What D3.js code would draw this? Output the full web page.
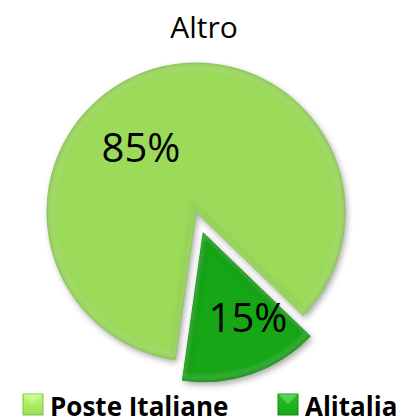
<!DOCTYPE html>
<html><head><meta charset="utf-8">
<script src="https://cdn.jsdelivr.net/npm/d3@7"></script>
<style>body{margin:0;background:#fff}svg{display:block}</style>
</head><body>
<script>
const categories = ["Poste Italiane", "Alitalia"];
const values = [85, 15];
const labels = ["85%", "15%"];
const title = "Altro";
const colors = ["#9cdb5a", "#19a619"];
const edgeColors = ["#82bd4c", "#138a13"];

const W = 403, H = 420;
const svg = d3.select("body").append("svg").attr("width", W).attr("height", H);
const defs = svg.append("defs");

const sh = defs.append("filter").attr("id","shadow").attr("x","-20%").attr("y","-20%").attr("width","140%").attr("height","140%");
sh.append("feDropShadow").attr("dx",2).attr("dy",3).attr("stdDeviation",3).attr("flood-color","#000").attr("flood-opacity",0.35);
const bl = defs.append("filter").attr("id","blur");
bl.append("feGaussianBlur").attr("stdDeviation",2.5);

const cx = 196, cy = 212, R = 149, explode = 22;
const a0 = 188 * Math.PI / 180;
const pie = d3.pie().sort(null).startAngle(a0).endAngle(a0 + 2*Math.PI);
const arcs = pie(values);
const arc = d3.arc().innerRadius(0).outerRadius(R);

svg.append("text").attr("x", 204).attr("y", 38).attr("text-anchor","middle")
  .attr("font-family","Open Sans").attr("font-size", 30).attr("fill","#000").text(title);

const g = svg.append("g").attr("transform", `translate(${cx},${cy})`);
arcs.forEach((d, i) => {
  const mid = (d.startAngle + d.endAngle) / 2;
  const off = i === 1 ? explode : 0;
  const tx = Math.sin(mid) * off, ty = -Math.cos(mid) * off;
  const sg = g.append("g").attr("transform", `translate(${tx},${ty})`);
  const cid = "clip" + i;
  defs.append("clipPath").attr("id", cid).append("path").attr("d", arc(d)).attr("transform", `translate(${cx+tx},${cy+ty})`);
  sg.append("path").attr("d", arc(d)).attr("fill", colors[i]).attr("filter","url(#shadow)");
  const inner = svg.append("g").attr("clip-path", `url(#${cid})`)
    .append("g").attr("transform", `translate(${cx+tx},${cy+ty})`);
  inner.append("path").attr("d", arc(d)).attr("fill","none").attr("stroke", edgeColors[i])
    .attr("stroke-width", 10).attr("filter","url(#blur)").attr("opacity",0.5);
  inner.append("path").attr("d", d3.arc().innerRadius(0).outerRadius(R-4)(d)).attr("fill","none")
    .attr("stroke","#fff").attr("stroke-width",3).attr("opacity",0.3).attr("filter","url(#blur)");
  sg.append("path").attr("d", arc(d)).attr("fill","none").attr("stroke", edgeColors[i]).attr("stroke-width",0.8);
});

// data labels
const lblPos = [[141, 162], [248, 332]];
arcs.forEach((d, i) => {
  svg.append("text").attr("x", lblPos[i][0]).attr("y", lblPos[i][1]).attr("text-anchor","middle")
    .attr("font-family","Open Sans").attr("font-size", 40).attr("fill","#000").text(labels[i]);
});

// legend
const legX = [23, 278];
categories.forEach((c, i) => {
  const lg = svg.append("g").attr("transform", `translate(${legX[i]},394)`);
  const gid = "lg" + i;
  const gr = defs.append("linearGradient").attr("id", gid).attr("x1",0).attr("y1",0).attr("x2",0).attr("y2",1);
  gr.append("stop").attr("offset","0").attr("stop-color", d3.color(colors[i]).brighter(0.5));
  gr.append("stop").attr("offset","1").attr("stop-color", colors[i]);
  lg.append("rect").attr("width",20).attr("height",21).attr("fill",`url(#${gid})`).attr("stroke",edgeColors[i]).attr("stroke-width",1);
  lg.append("path").attr("d","M0,0 L10,10.5 L20,0 Z").attr("fill","#fff").attr("opacity",0.25);
  lg.append("text").attr("x", 27).attr("y", 21.5).attr("font-family","Open Sans").attr("font-weight","bold")
    .attr("font-size", 26).attr("fill","#000").text(c);
});
</script>
</body></html>
